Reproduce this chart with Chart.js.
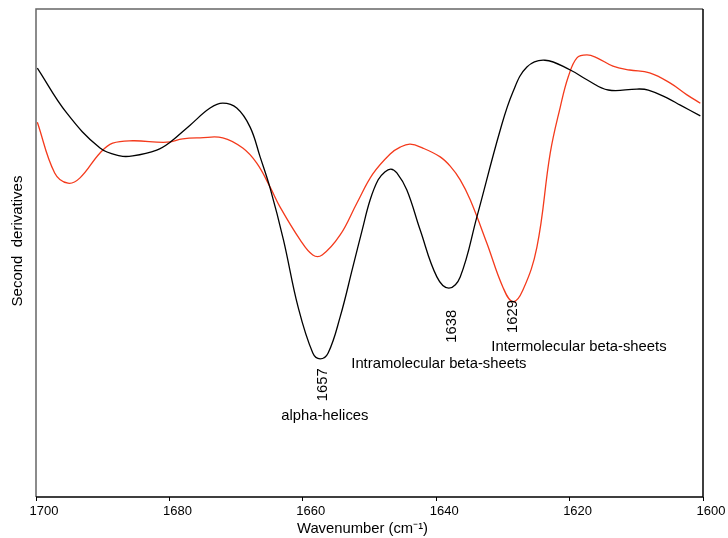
<!DOCTYPE html>
<html>
<head>
<meta charset="utf-8">
<script src="https://cdn.jsdelivr.net/npm/chart.js@4/dist/chart.umd.min.js"></script>
<style>
  html, body { margin: 0; padding: 0; background: #fff; }
  #wrap { width: 728px; height: 538px; position: relative; }
</style>
</head>
<body>
<div id="wrap"><canvas id="myChart"></canvas></div>
<script>
// wavenumber (cm-1) and second-derivative value (arbitrary units)
const blackWave = [1699.8, 1695.4, 1690.4, 1687.4, 1685.5, 1681.9, 1679.9, 1676.9, 1673.9, 1672.0,
  1669.9, 1667.9, 1666.4, 1664.9, 1662.9, 1660.7, 1658.5, 1657.4, 1656.2, 1654.4,
  1652.5, 1651.1, 1649.9, 1648.7, 1647.7, 1646.8, 1645.9, 1644.4, 1642.4, 1639.9,
  1638.1, 1636.4, 1633.9, 1630.4, 1628.5, 1626.4, 1623.7, 1619.9, 1617.4, 1614.2,
  1609.9, 1608.2, 1605.4, 1603.4, 1600.4];
const blackVals = [87.9, 78.7, 71.5, 69.9, 69.9, 71.1, 72.7, 76.2, 79.7, 80.7,
  79.7, 75.8, 69.7, 63.3, 52.7, 38.9, 29.5, 28.3, 29.5, 36.9,
  47.1, 54.7, 60.9, 65.0, 66.6, 67.2, 66.4, 62.9, 54.7, 45.1,
  42.8, 45.1, 57.4, 75.2, 83.0, 88.1, 89.5, 87.5, 85.5, 83.4,
  83.6, 83.4, 81.8, 80.3, 78.1];

const redWave = [1699.8, 1697.2, 1695.2, 1693.4, 1690.4, 1688.5, 1685.5, 1680.4, 1678.0, 1675.4,
  1672.0, 1669.0, 1666.9, 1664.9, 1663.4, 1660.4, 1658.5, 1657.1, 1654.4, 1651.9,
  1649.5, 1646.9, 1645.4, 1643.9, 1642.0, 1639.4, 1637.9, 1636.4, 1634.9, 1632.4,
  1630.0, 1628.5, 1627.0, 1624.9, 1622.9, 1621.4, 1620.2, 1618.9, 1617.4, 1615.9,
  1613.5, 1611.0, 1608.0, 1604.9, 1602.4, 1600.4];
const redVals = [76.8, 66.4, 64.3, 65.4, 70.5, 72.5, 73.0, 72.7, 73.4, 73.6,
  73.6, 71.5, 68.4, 63.5, 59.4, 52.7, 49.6, 49.6, 53.7, 60.2,
  66.2, 70.3, 71.7, 72.3, 71.5, 69.7, 67.8, 65.0, 60.9, 52.0,
  43.0, 40.0, 42.4, 51.2, 70.5, 79.9, 86.1, 90.0, 90.6, 90.0,
  88.3, 87.5, 86.9, 84.8, 82.4, 80.7];

const xTicks = [1700, 1680, 1660, 1640, 1620, 1600];

const xTitle = 'Wavenumber (cm\u207B\u00B9)';
const yTitle = 'Second  derivatives';

// labels placed in data units: [text, wavenumber, value, rotated]
const notes = [
  ['1657', 1657.0, 23.0, true],
  ['alpha-helices', 1656.7, 16.6, false],
  ['1638', 1637.6, 35.0, true],
  ['Intramolecular beta-sheets', 1639.6, 27.3, false],
  ['1629', 1628.5, 37.0, true],
  ['Intermolecular beta-sheets', 1618.6, 30.7, false]
];

function pts(xs, ys) {
  return xs.map((x, i) => ({ x: x, y: ys[i] }));
}

const FONT = '"Liberation Sans", Arial, sans-serif';

const extras = {
  id: 'extras',
  afterDraw(chart) {
    const c = chart.ctx;
    const a = chart.chartArea;
    const sx = chart.scales.x, sy = chart.scales.y;
    c.save();
    // frame
    c.lineWidth = 1.5;
    c.strokeStyle = '#666';
    c.beginPath();
    c.moveTo(a.left, a.bottom);
    c.lineTo(a.left, a.top);
    c.lineTo(a.right, a.top);
    c.stroke();
    c.strokeStyle = '#000';
    c.beginPath();
    c.moveTo(a.right, a.top);
    c.lineTo(a.right, a.bottom);
    c.lineTo(a.left, a.bottom);
    c.stroke();

    c.fillStyle = '#000';
    c.font = '14.8px ' + FONT;
    c.textAlign = 'center';
    c.textBaseline = 'middle';
    notes.forEach(n => {
      const px = sx.getPixelForValue(n[1]);
      const py = sy.getPixelForValue(n[2]);
      if (n[3]) {
        c.save();
        c.translate(px, py);
        c.rotate(-Math.PI / 2);
        c.fillText(n[0], 0, 0);
        c.restore();
      } else {
        c.fillText(n[0], px, py);
      }
    });

    // axis titles
    c.font = '14.8px ' + FONT;
    c.fillText(xTitle, (a.left + a.right) / 2 - 7, a.bottom + 32);
    c.font = '15px ' + FONT;
    c.save();
    c.translate(18, 241);
    c.rotate(-Math.PI / 2);
    c.fillText(yTitle, 0, 0);
    c.restore();
    c.restore();
  }
};

const ctx = document.getElementById('myChart');

new Chart(ctx, {
  type: 'line',
  data: {
    datasets: [{
      data: pts(blackWave, blackVals),
      borderColor: '#000',
      borderWidth: 1.3,
      pointRadius: 0,
      tension: 0.4
    }, {
      data: pts(redWave, redVals),
      borderColor: '#f43a1c',
      borderWidth: 1.3,
      pointRadius: 0,
      tension: 0.4
    }]
  },
  options: {
    responsive: true,
    maintainAspectRatio: false,
    animation: false,
    layout: { padding: { left: 36, right: 25, top: 9, bottom: 0 } },
    plugins: { legend: { display: false }, tooltip: { enabled: false } },
    scales: {
      x: {
        type: 'linear',
        reverse: true,
        min: 1600,
        max: 1700,
        afterBuildTicks: s => { s.ticks = xTicks.map(v => ({ value: v })); },
        afterFit: s => { s.height = 41; },
        border: { display: false },
        grid: { drawOnChartArea: false, tickLength: 4, color: '#000' },
        ticks: {
          padding: 3,
          labelOffset: 8,
          maxRotation: 0,
          color: '#000',
          font: { family: FONT, size: 13 },
          callback: v => String(v)
        }
      },
      y: {
        display: false,
        min: 0,
        max: 100
      }
    }
  },
  plugins: [extras]
});
</script>
</body>
</html>
